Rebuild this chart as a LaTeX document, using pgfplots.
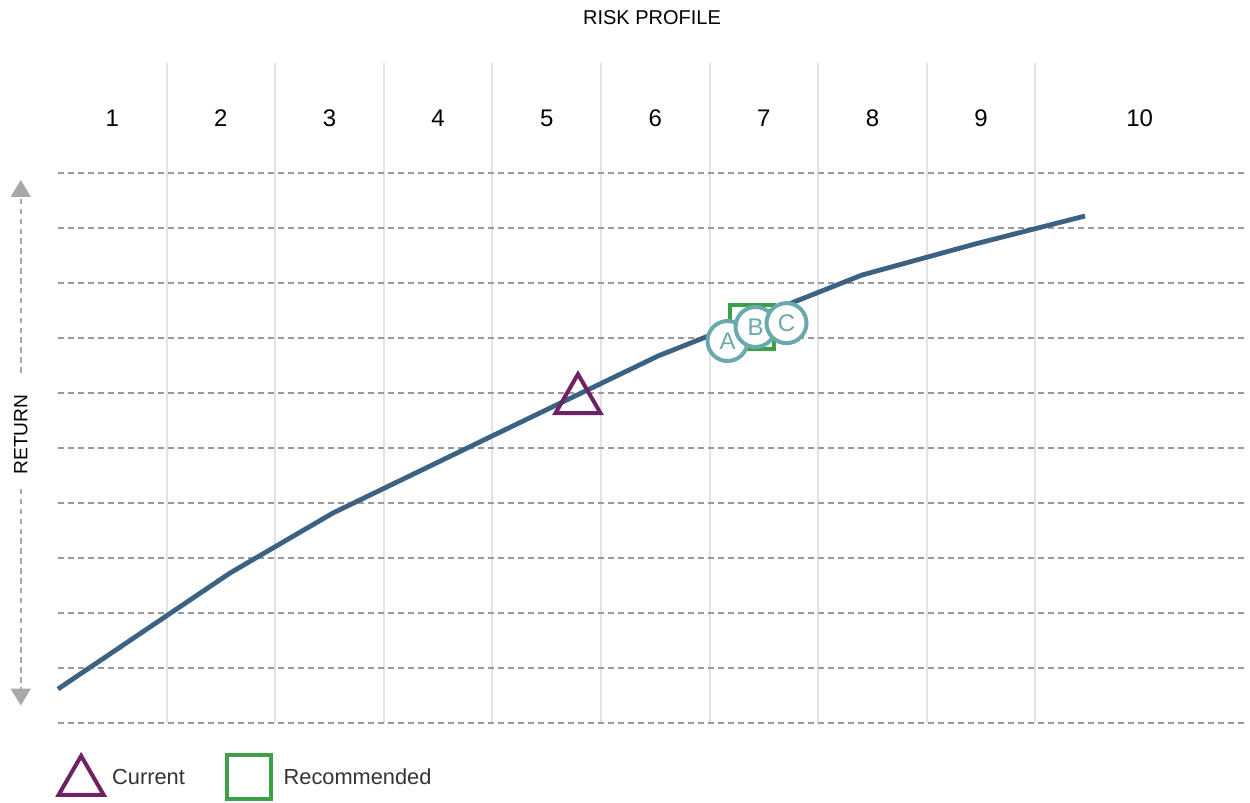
\documentclass[border=0pt]{standalone}
\usepackage{pgfplots}
\pgfplotsset{compat=1.18}
\usepackage{fontspec}
\setmainfont{Liberation Sans}
\usetikzlibrary{arrows.meta}
\definecolor{lineblue}{HTML}{3B6283}
\definecolor{curpurple}{HTML}{6D2266}
\definecolor{recgreen}{HTML}{3DA047}
\definecolor{circteal}{HTML}{6AA9AD}
\definecolor{dashgray}{HTML}{9A9A9A}
\definecolor{gridgray}{HTML}{E3E3E3}
\definecolor{arrowgray}{HTML}{A8A8A8}
\definecolor{textgray}{HTML}{333333}
\pgfplotsset{
  trileg/.style={legend image code/.code={\draw[mark repeat=2,mark phase=2,##1] plot coordinates {(0pt,-2pt) (12.5pt,-2pt) (26pt,-2pt)}; \path[draw=none,fill=none] (0pt,0pt) -- (26pt,0pt);}},
  sqleg/.style={legend image code/.code={\draw[mark repeat=2,mark phase=2,##1] plot coordinates {(0pt,0.5pt) (12.5pt,0.5pt) (27.9pt,0.5pt)}; \path[draw=none,fill=none] (0pt,0pt) -- (27.9pt,0pt);}},
}
\begin{document}
\begin{tikzpicture}
\begin{axis}[
  x=54.3pt, y=27.5pt,
  xmin=0, xmax=10.95, ymin=0, ymax=12,
  axis line style={draw=none},
  tick style={draw=none},
  xtick={1,...,9}, ytick={0,...,10},
  xticklabels={}, yticklabels={},
  xmajorgrids, ymajorgrids,
  x grid style={gridgray, line width=1pt},
  y grid style={dashgray, line width=0.9pt, dash pattern=on 3pt off 2pt},
  clip=false,
  legend columns=2,
  legend style={at={(axis cs:-0.076,-0.98)}, anchor=west, draw=none, fill=none,
    font=\fontsize{10.9}{12}\selectfont, text=textgray,
    /tikz/every even column/.append style={column sep=17.5pt}},
  legend cell align=left,
]
\addplot[lineblue, line width=2.4pt, forget plot] coordinates {
  (0,0.618) (1.584,2.727) (2.532,3.818) (3.978,5.2) (5.525,6.673)
  (7.403,8.145) (8.444,8.709) (9.457,9.218)};

\addplot[only marks, trileg, mark=triangle, mark size=13pt,
  mark options={draw=curpurple, line width=2pt, fill=none}] coordinates {(4.788,5.87)};
\addlegendentry{Current}
\addplot[only marks, sqleg, mark=square, mark size=10.9pt,
  mark options={draw=recgreen, line width=2pt, fill=none}] coordinates {(6.39,7.2)};
\addlegendentry{Recommended}

\addplot[only marks, mark=*, mark size=10pt, forget plot,
  mark options={draw=circteal, fill=white, line width=2pt},
  nodes near coords, point meta=explicit symbolic,
  every node near coord/.append style={anchor=center, text=circteal, font=\fontsize{12}{12}\selectfont}]
  coordinates {(6.165,6.945) [A]};
\addplot[only marks, mark=*, mark size=10pt, forget plot,
  mark options={draw=circteal, fill=white, line width=2pt},
  nodes near coords, point meta=explicit symbolic,
  every node near coord/.append style={anchor=center, text=circteal, font=\fontsize{12}{12}\selectfont}]
  coordinates {(6.423,7.2) [B]};
\addplot[only marks, mark=*, mark size=10pt, forget plot,
  mark options={draw=circteal, fill=white, line width=2pt},
  nodes near coords, point meta=explicit symbolic,
  every node near coord/.append style={anchor=center, text=circteal, font=\fontsize{12}{12}\selectfont}]
  coordinates {(6.708,7.27) [C]};

\node[font=\fontsize{10}{12}\selectfont] at (axis cs:5.47,12.82) {RISK PROFILE};
\begin{scope}[every node/.style={font=\fontsize{12}{14}\selectfont}]
\node at (axis cs:0.5,11) {1};
\node at (axis cs:1.5,11) {2};
\node at (axis cs:2.5,11) {3};
\node at (axis cs:3.5,11) {4};
\node at (axis cs:4.5,11) {5};
\node at (axis cs:5.5,11) {6};
\node at (axis cs:6.5,11) {7};
\node at (axis cs:7.5,11) {8};
\node at (axis cs:8.5,11) {9};
\node at (axis cs:9.96,11) {10};
\end{scope}

\draw[arrowgray, line width=0.8pt, dash pattern=on 2.75pt off 2.2pt, -{Triangle[width=10pt,length=8.5pt]}]
  (axis cs:-0.343,6.37) -- (axis cs:-0.343,9.873);
\draw[arrowgray, line width=0.8pt, dash pattern=on 2.75pt off 2.2pt, -{Triangle[width=10pt,length=8.5pt]}]
  (axis cs:-0.343,4.255) -- (axis cs:-0.343,0.318);
\node[rotate=90, font=\fontsize{9.6}{10}\selectfont] at (axis cs:-0.343,5.245) {RETURN};

\path (axis cs:-0.5341,13.1455) rectangle (axis cs:10.976,-1.4);
\end{axis}
\end{tikzpicture}
\end{document}
